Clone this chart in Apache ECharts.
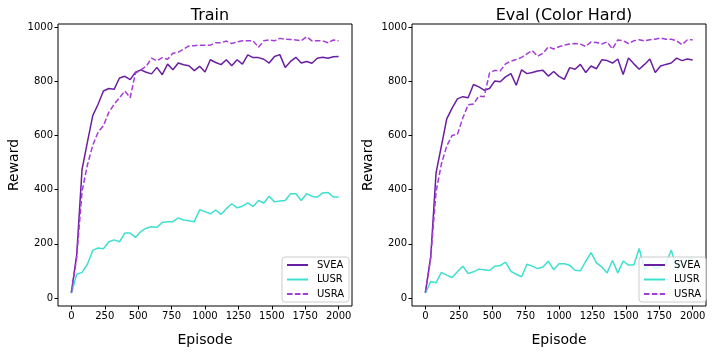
<!DOCTYPE html>
<html>
<head>
    <meta charset="utf-8">
    <title>Train / Eval reward</title>
    <script src="https://cdn.jsdelivr.net/npm/echarts@6/dist/echarts.min.js"></script>
</head>
<body style="margin:0">
    <div id="main" style="width: 712px;height:352px;"></div>
    <script type="text/javascript">
        var episodes = [0, 40, 80, 120, 160, 200, 240, 280, 320, 360, 400, 440, 480, 520, 560, 600, 640, 680, 720, 760,
            800, 840, 880, 920, 960, 1000, 1040, 1080, 1120, 1160, 1200, 1240, 1280, 1320, 1360, 1400, 1440, 1480, 1520, 1560,
            1600, 1640, 1680, 1720, 1760, 1800, 1840, 1880, 1920, 1960, 2000];
        var xTicks = [0, 250, 500, 750, 1000, 1250, 1500, 1750, 2000];
        var yTicks = [0, 200, 400, 600, 800, 1000];

        // Train
        var trainSVEA = [20, 160, 475, 575, 673, 715, 764, 773, 770, 812, 818, 806, 833, 842, 833, 827, 851, 824, 863, 842,
            867, 861, 857, 839, 855, 834, 879, 869, 861, 879, 857, 879, 863, 897, 887, 887, 881, 867, 891, 898,
            851, 873, 888, 867, 873, 866, 885, 888, 885, 890, 891];
        var trainLUSR = [18, 88, 95, 125, 176, 185, 182, 208, 215, 208, 240, 240, 224, 246, 258, 263, 261, 279, 282, 282,
            296, 288, 285, 282, 326, 319, 311, 325, 309, 330, 348, 333, 339, 351, 338, 360, 351, 376, 355, 358,
            360, 385, 385, 360, 385, 376, 372, 388, 390, 373, 373];
        var trainUSRA = [20, 150, 394, 491, 564, 612, 636, 685, 715, 739, 764, 739, 830, 842, 855, 885, 875, 887, 881, 903,
            907, 918, 930, 931, 933, 933, 933, 942, 942, 948, 939, 945, 949, 949, 949, 925, 949, 952, 949, 958,
            955, 954, 952, 949, 964, 949, 949, 949, 942, 952, 949];

        // Eval (Color Hard)
        var evalSVEA = [20, 151, 462, 561, 661, 701, 735, 743, 739, 788, 779, 767, 773, 801, 798, 816, 828, 785, 842, 828,
            832, 838, 840, 819, 836, 818, 807, 850, 844, 862, 832, 856, 846, 879, 876, 867, 882, 825, 886, 864,
            844, 862, 882, 832, 856, 862, 867, 885, 876, 882, 878];
        var evalLUSR = [18, 61, 57, 95, 85, 76, 97, 118, 91, 97, 107, 105, 102, 118, 120, 133, 99, 88, 79, 125,
            118, 109, 115, 136, 105, 127, 127, 121, 103, 101, 136, 168, 130, 115, 93, 139, 93, 137, 122, 122,
            183, 105, 128, 110, 116, 128, 177, 110, 125, 140, 150];
        var evalUSRA = [20, 150, 392, 495, 561, 600, 604, 664, 713, 716, 745, 743, 830, 840, 838, 864, 874, 880, 888, 901,
            913, 892, 903, 927, 919, 927, 933, 937, 939, 937, 928, 945, 943, 937, 945, 919, 952, 949, 939, 949,
            953, 949, 953, 955, 959, 955, 955, 949, 935, 952, 953];

        var FONT = 'DejaVu Sans';
        var colors = { SVEA: '#6a1fa0', LUSR: '#40e0d0', USRA: '#a63cd8' };

        function pairs(ys) {
            return episodes.map(function (x, i) { return [x, ys[i]]; });
        }
        function plain(v) { return String(v); }

        function makeX(idx) {
            return {
                type: 'value', gridIndex: idx, min: -100, max: 2100,
                name: 'Episode', nameLocation: 'middle', nameGap: 27,
                nameTextStyle: { fontFamily: FONT, fontSize: 14, color: '#000' },
                axisLine: { show: false, onZero: false },
                axisTick: { show: true, length: 3.5, customValues: xTicks, lineStyle: { color: '#000' } },
                axisLabel: { customValues: xTicks, formatter: plain, margin: 5, fontFamily: FONT, fontSize: 10, color: '#000' },
                splitLine: { show: false }
            };
        }
        function makeY(idx) {
            return {
                type: 'value', gridIndex: idx, min: -29, max: 1011,
                name: 'Reward', nameLocation: 'middle', nameGap: 37,
                nameTextStyle: { fontFamily: FONT, fontSize: 14, color: '#000' },
                axisLine: { show: false, onZero: false },
                axisTick: { show: true, length: 3.5, customValues: yTicks, lineStyle: { color: '#000' } },
                axisLabel: { customValues: yTicks, formatter: plain, margin: 5, fontFamily: FONT, fontSize: 10, color: '#000' },
                splitLine: { show: false }
            };
        }
        function makeSeries(name, ys, idx) {
            return {
                name: name, type: 'line', xAxisIndex: idx, yAxisIndex: idx,
                data: pairs(ys), symbol: 'none', showSymbol: false,
                lineStyle: { color: colors[name], width: 1.5, type: name === 'USRA' ? [5.5, 2.4] : 'solid' },
                itemStyle: { color: colors[name] }
            };
        }
        function makeLegend(left) {
            return {
                data: ['SVEA', 'LUSR', 'USRA'], orient: 'vertical', left: left, top: 257,
                itemWidth: 21, itemHeight: 11, itemGap: 4.5, padding: [3, 5, 3, 4],
                backgroundColor: 'rgba(255,255,255,0.8)', borderColor: '#cccccc', borderWidth: 1, borderRadius: 3,
                itemStyle: { opacity: 0 },
                textStyle: { fontFamily: FONT, fontSize: 10, color: '#000', padding: [0, 0, 0, 4] },
                selectedMode: false
            };
        }

        var myChart = echarts.init(document.getElementById('main'));
        var option = {
            animation: false,
            backgroundColor: '#fff',
            title: [
                { text: 'Train', left: 205, top: 3, textAlign: 'center',
                  textStyle: { fontFamily: FONT, fontSize: 16, fontWeight: 'normal', color: '#000' } },
                { text: 'Eval (Color Hard)', left: 559, top: 3, textAlign: 'center',
                  textStyle: { fontFamily: FONT, fontSize: 16, fontWeight: 'normal', color: '#000' } }
            ],
            grid: [
                { left: 58, top: 24, width: 294, height: 286, show: true, borderColor: '#000', borderWidth: 1, backgroundColor: 'transparent' },
                { left: 412, top: 24, width: 294, height: 286, show: true, borderColor: '#000', borderWidth: 1, backgroundColor: 'transparent' }
            ],
            legend: [makeLegend(282), makeLegend(639)],
            xAxis: [makeX(0), makeX(1)],
            yAxis: [makeY(0), makeY(1)],
            series: [
                makeSeries('SVEA', trainSVEA, 0),
                makeSeries('LUSR', trainLUSR, 0),
                makeSeries('USRA', trainUSRA, 0),
                makeSeries('SVEA', evalSVEA, 1),
                makeSeries('LUSR', evalLUSR, 1),
                makeSeries('USRA', evalUSRA, 1)
            ]
        };
        myChart.setOption(option);
    </script>
</body>
</html>
